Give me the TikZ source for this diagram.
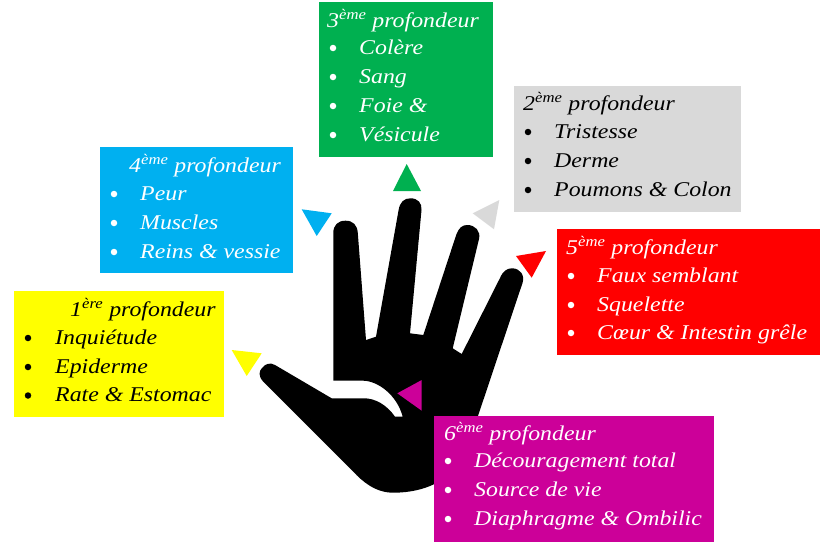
\documentclass[tikz,border=0pt]{standalone}
\usepackage{fontspec}
\setmainfont[FakeStretch=1.135]{Liberation Serif}
\usetikzlibrary{positioning}
\definecolor{jaune}{HTML}{FFFF00}
\definecolor{bleu}{HTML}{00B0F0}
\definecolor{vert}{HTML}{00B050}
\definecolor{gris}{HTML}{D9D9D9}
\definecolor{rouge}{HTML}{FF0000}
\definecolor{violet}{HTML}{CC0099}
\tikzset{
    boite/.style={anchor=north west, inner sep=0pt, minimum width=#1},
    ligne/.style={anchor=base west, inner sep=0pt, font=\fontsize{21}{25}\selectfont\itshape},
    puce/.style={circle, inner sep=0pt, minimum size=6.5pt}
}
\begin{document}
\begin{tikzpicture}[x=1pt, y=-1pt]
        \useasboundingbox (0, 0) rectangle (832, 557);

        % main
        \fill [black] (275, 365) -- (331.7, 398.3) -- (363.3, 398.3)
            .. controls (375, 398) and (387, 405) .. (395, 416.7) -- (402.7, 416.7)
            .. controls (397, 395) and (378, 381) .. (363.3, 380.7) -- (333.3, 380.7)
            -- (333.3, 233) .. controls (333.3, 225) and (338, 220.7) .. (345.5, 220.7)
            .. controls (353, 220.7) and (357.3, 225) .. (357.8, 233) -- (366, 340) -- (376, 336.7)
            -- (398.6, 210) .. controls (400, 202) and (404, 198.3) .. (410.5, 198.3)
            .. controls (418, 198.3) and (422, 203) .. (421.5, 210) -- (410, 333.3) -- (423.3, 335)
            -- (456.5, 234) .. controls (459, 228) and (462, 225) .. (467.3, 225)
            .. controls (475, 225) and (481, 231) .. (479, 239) -- (452.7, 348.3) -- (461.7, 354)
            -- (500, 278) .. controls (503, 271) and (507, 268.3) .. (512, 268.3)
            .. controls (520, 268.3) and (525, 275) .. (522.5, 283) -- (478.3, 415) -- (460, 460)
            .. controls (450, 480) and (425, 492.7) .. (393.3, 492.7)
            .. controls (375, 492.7) and (362, 481) .. (353.3, 471.7)
            -- (263.3, 381.7) .. controls (258, 376) and (259, 371) .. (262, 368)
            .. controls (265, 364) and (270, 362) .. (275, 365) -- cycle;

        % triangles
        \fill [jaune] (231.7, 350) -- (261.7, 353.3) -- (246.7, 376) -- cycle;
        \fill [bleu] (301.7, 209.3) -- (331.7, 213.3) -- (316.7, 236) -- cycle;
        \fill [vert] (406.7, 164) -- (421, 191) -- (393, 191) -- cycle;
        \fill [gris] (499.3, 200) -- (494, 229.3) -- (472.7, 213.3) -- cycle;
        \fill [rouge] (516, 256) -- (546, 251) -- (531.7, 277.7) -- cycle;
        \fill [violet] (421.7, 380) -- (421.7, 410.7) -- (397.3, 393.3) -- cycle;

        % 1ere
        \node [boite=210pt, minimum height=126pt, fill=jaune] (boite1) at (14, 291) {};
        \node [ligne] (titre1) at (70, 316) {1\textsuperscript{ère} profondeur};
        \node [puce, fill=black] (puce1a) at (28, 338) {};
        \node [puce, fill=black] (puce1b) at (28, 367) {};
        \node [puce, fill=black] (puce1c) at (28, 395.5) {};
        \node [ligne] (texte1a) at (55, 344) {Inquiétude};
        \node [ligne] (texte1b) at (55, 373) {Epiderme};
        \node [ligne] (texte1c) at (55, 401.5) {Rate \& Estomac};

        % 4eme
        \node [boite=193pt, minimum height=126pt, fill=bleu] (boite4) at (100, 147) {};
        \node [ligne, text=white] (titre4) at (129, 172) {4\textsuperscript{ème} profondeur};
        \node [puce, fill=white] (puce4a) at (114, 194) {};
        \node [puce, fill=white] (puce4b) at (114, 223) {};
        \node [puce, fill=white] (puce4c) at (114, 252) {};
        \node [ligne, text=white] (texte4a) at (140, 200) {Peur};
        \node [ligne, text=white] (texte4b) at (140, 229) {Muscles};
        \node [ligne, text=white] (texte4c) at (140, 258) {Reins \& vessie};

        % 3eme
        \node [boite=174pt, minimum height=155pt, fill=vert] (boite3) at (319, 2) {};
        \node [ligne, text=white] (titre3) at (327, 27) {3\textsuperscript{ème} profondeur};
        \node [puce, fill=white] (puce3a) at (333, 48) {};
        \node [puce, fill=white] (puce3b) at (333, 77) {};
        \node [puce, fill=white] (puce3c) at (333, 106) {};
        \node [puce, fill=white] (puce3d) at (333, 135) {};
        \node [ligne, text=white] (texte3a) at (359, 54) {Colère};
        \node [ligne, text=white] (texte3b) at (359, 83) {Sang};
        \node [ligne, text=white] (texte3c) at (359, 112) {Foie \&};
        \node [ligne, text=white] (texte3d) at (359, 141) {Vésicule};

        % 2eme
        \node [boite=227pt, minimum height=126pt, fill=gris] (boite2) at (514, 86) {};
        \node [ligne] (titre2) at (523, 110) {2\textsuperscript{ème} profondeur};
        \node [puce, fill=black] (puce2a) at (528, 132) {};
        \node [puce, fill=black] (puce2b) at (528, 161) {};
        \node [puce, fill=black] (puce2c) at (528, 190) {};
        \node [ligne] (texte2a) at (554, 138) {Tristesse};
        \node [ligne] (texte2b) at (554, 167) {Derme};
        \node [ligne] (texte2c) at (554, 196) {Poumons \& Colon};

        % 5eme
        \node [boite=263pt, minimum height=126pt, fill=rouge] (boite5) at (557, 229) {};
        \node [ligne, text=white] (titre5) at (566, 254) {5\textsuperscript{ème} profondeur};
        \node [puce, fill=white] (puce5a) at (571, 276) {};
        \node [puce, fill=white] (puce5b) at (571, 305) {};
        \node [puce, fill=white] (puce5c) at (571, 333) {};
        \node [ligne, text=white] (texte5a) at (597, 282) {Faux semblant};
        \node [ligne, text=white] (texte5b) at (597, 311) {Squelette};
        \node [ligne, text=white] (texte5c) at (597, 339) {Cœur \& Intestin grêle};

        % 6eme
        \node [boite=280pt, minimum height=126pt, fill=violet] (boite6) at (434, 416) {};
        \node [ligne, text=white] (titre6) at (444, 440) {6\textsuperscript{ème} profondeur};
        \node [puce, fill=white] (puce6a) at (448, 461) {};
        \node [puce, fill=white] (puce6b) at (448, 490) {};
        \node [puce, fill=white] (puce6c) at (448, 519) {};
        \node [ligne, text=white] (texte6a) at (474, 467) {Découragement total};
        \node [ligne, text=white] (texte6b) at (474, 496) {Source de vie};
        \node [ligne, text=white] (texte6c) at (474, 525) {Diaphragme \& Ombilic};
    \end{tikzpicture}
\end{document}
